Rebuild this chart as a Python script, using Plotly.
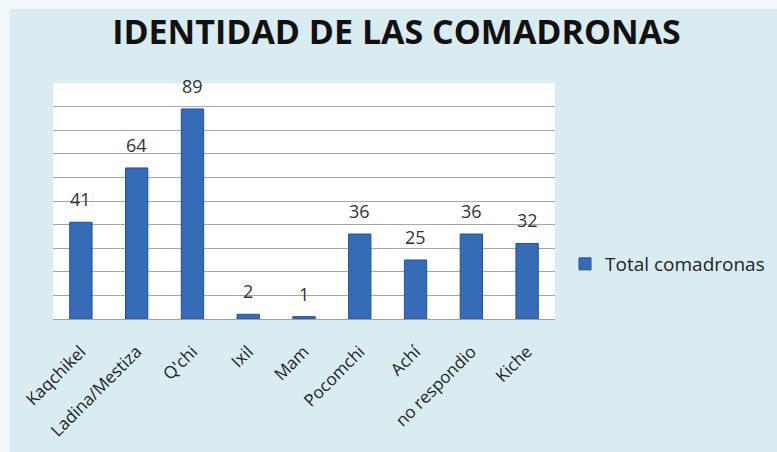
import plotly.graph_objects as go

categories = ["Kaqchikel", "Ladina/Mestiza", "Q'chi", "Ixil", "Mam", "Pocomchi", "Achí", "no respondio", "Kiche"]
values = [41, 64, 89, 2, 1, 36, 25, 36, 32]
series_name = "Total comadronas"
title_text = "IDENTIDAD DE LAS COMADRONAS"

W, H = 777, 452
L, R, T, B = 53, 222, 83, 133
pw, ph = W - L - R, H - T - B

def px_to_paper_x(px):
    return (px - L) / pw

def py_to_paper_y(py):
    return (H - B - py) / ph

fig = go.Figure()
fig.add_trace(go.Bar(
    x=categories, y=values, name=series_name,
    marker=dict(color="#366bb8", line=dict(color="#25508f", width=1)),
    width=0.4,
))

for c, v in zip(categories, values):
    fig.add_annotation(x=c, y=v, text=str(v), showarrow=False,
                       yanchor="bottom", yshift=9,
                       font=dict(family="Open Sans", size=18, color="#333333"))

fig.add_shape(type="rect", xref="paper", yref="paper",
              x0=px_to_paper_x(10), x1=px_to_paper_x(W + 5),
              y0=py_to_paper_y(H + 5), y1=py_to_paper_y(9),
              fillcolor="#d9ecf1", line=dict(width=0), layer="below")
fig.add_shape(type="rect", xref="paper", yref="paper",
              x0=0, x1=1, y0=0, y1=1,
              fillcolor="white", line=dict(width=0), layer="below")

fig.update_layout(
    width=W, height=H,
    margin=dict(l=L, r=R, t=T, b=B, autoexpand=False),
    paper_bgcolor="#f2f8fa",
    plot_bgcolor="rgba(0,0,0,0)",
    title=dict(text="<b>" + title_text + "</b>", x=396.5 / W, xanchor="center",
               y=1 - 32 / H, yanchor="middle",
               font=dict(family="Open Sans", size=34, color="#111111")),
    showlegend=True,
    legend=dict(x=px_to_paper_x(565), y=py_to_paper_y(264), xanchor="left", yanchor="middle",
                bgcolor="rgba(0,0,0,0)",
                font=dict(family="Open Sans", size=19, color="#222222"),
                itemwidth=30),
)
fig.update_xaxes(tickangle=-45, tickfont=dict(family="Open Sans", size=17, color="#222222"),
                 showline=True, linecolor="#a0a0a0", linewidth=1, ticks="",
                 ticklabelstandoff=15, showgrid=False, automargin=False)
fig.update_yaxes(range=[0, 100], dtick=10, showticklabels=False, showgrid=True,
                 gridcolor="#a8a8a8", gridwidth=1, zeroline=False, ticks="",
                 automargin=False)

fig.write_html("out.html")
